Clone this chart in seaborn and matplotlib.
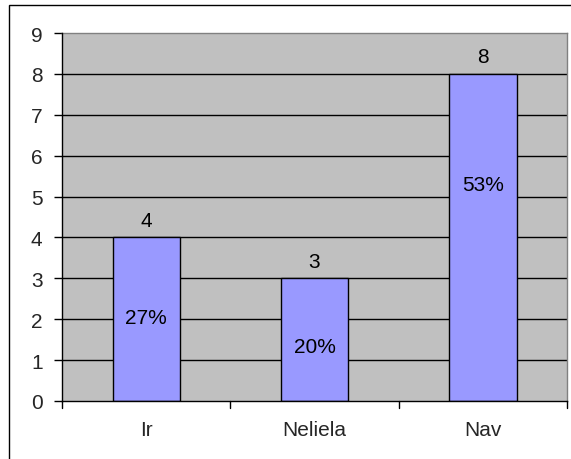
import matplotlib
matplotlib.use("Agg")
import matplotlib.pyplot as plt
import seaborn as sns
import pandas as pd
from matplotlib.patches import Rectangle

categories = ["Ir", "Neliela", "Nav"]
values = [4, 3, 8]
percent_labels = ["27%", "20%", "53%"]
# heights (in data units) where the share labels sit inside the bars
percent_label_y = [2.05, 1.34, 5.3]
y_ticks = list(range(0, 10))

sns.set_theme(style="white")
plt.rcParams["font.family"] = ["Liberation Sans", "DejaVu Sans"]

FS = 15

df = pd.DataFrame({"category": categories, "value": values})

fig = plt.figure(figsize=(5.71, 4.60), dpi=100)
ax = fig.add_axes([62 / 571, 58 / 460, 505 / 571, 368 / 460])
ax.set_facecolor("#C0C0C0")

# outer chart border
fig.add_artist(Rectangle((9 / 571, -0.01), 1.0, 1 - 6 / 460 + 0.01,
                         transform=fig.transFigure, fill=False,
                         edgecolor="black", linewidth=1.0))

sns.barplot(data=df, x="category", y="value", color="#9999FF",
            edgecolor="black", linewidth=1.0, width=0.4,
            saturation=1, ax=ax, zorder=3)

ax.set_xlim(-0.5, len(categories) - 0.5)
ax.set_ylim(0, 9)
ax.set_yticks(y_ticks)
ax.set_yticklabels([str(t) for t in y_ticks], fontsize=FS)
ax.set_xlabel("")
ax.set_ylabel("")

# horizontal gridlines
for t in y_ticks[1:-1]:
    ax.axhline(t, color="black", linewidth=1.0, zorder=1)

for s in ["top", "right"]:
    ax.spines[s].set_color("#808080")
    ax.spines[s].set_linewidth(1.0)
for s in ["left", "bottom"]:
    ax.spines[s].set_color("black")
    ax.spines[s].set_linewidth(1.0)
    ax.spines[s].set_zorder(4)

ax.tick_params(axis="y", direction="out", length=6, width=1, color="black",
               left=True, pad=8, labelsize=FS)
ax.set_xticks([i for i in range(len(categories))])
ax.set_xticklabels(categories, fontsize=FS)
ax.tick_params(axis="x", length=0, pad=14)
# x ticks between categories
for b in [-0.5, 0.5, 1.5, 2.5]:
    ax.plot([b, b], [0, -0.17], color="black", linewidth=1.0,
            clip_on=False, zorder=5)

for i, (v, p, py) in enumerate(zip(values, percent_labels, percent_label_y)):
    ax.text(i, v + 0.42, str(v), ha="center", va="center", fontsize=FS,
            color="black", zorder=6)
    ax.text(i, py, p, ha="center", va="center", fontsize=FS,
            color="black", zorder=6)

fig.savefig("out.png", dpi=100)
